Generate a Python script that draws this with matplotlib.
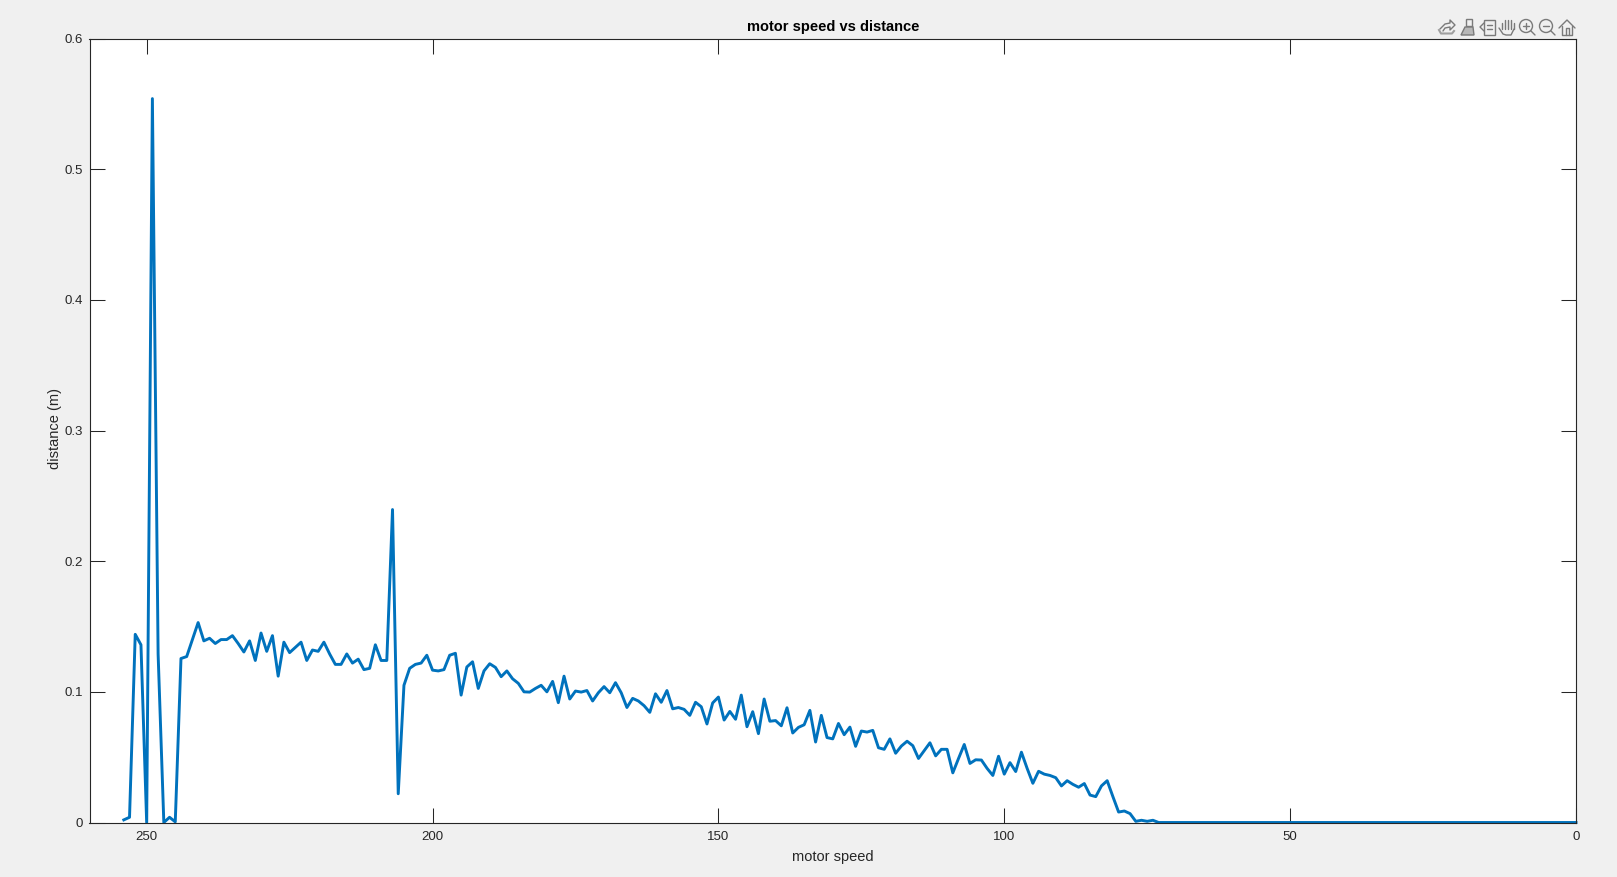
import matplotlib
matplotlib.use('Agg')
import matplotlib.pyplot as plt
from matplotlib.patches import Circle, Polygon, Rectangle

plt.rcParams['font.family'] = ['Liberation Sans', 'DejaVu Sans']

# motor speed runs 254 down to 0
motor_speed = list(range(254, -1, -1))
distance = [
    0.002, 0.004, 0.144, 0.136, 0.0, 0.554, 0.129, 0.0, 0.004, 0.0005,
    0.1255, 0.127, 0.140, 0.153, 0.139, 0.141, 0.137, 0.140, 0.140, 0.143,
    0.137, 0.1305, 0.139, 0.124, 0.145, 0.131, 0.143, 0.112, 0.138, 0.130,
    0.134, 0.138, 0.124, 0.132, 0.131, 0.138, 0.129, 0.121, 0.121, 0.129,
    0.122, 0.125, 0.117, 0.118, 0.136, 0.124, 0.124, 0.2395, 0.022, 0.105,
    0.118, 0.121, 0.122, 0.128, 0.1166, 0.116, 0.117, 0.128, 0.1295, 0.0975,
    0.119, 0.123, 0.1026, 0.116, 0.1215, 0.1187, 0.1116, 0.116, 0.110, 0.1065,
    0.100, 0.0998, 0.1026, 0.105, 0.100, 0.108, 0.0917, 0.112, 0.0945, 0.1006,
    0.0998, 0.101, 0.093, 0.0993, 0.104, 0.0993, 0.107, 0.0993, 0.088, 0.095,
    0.093, 0.0894, 0.0843, 0.0985, 0.092, 0.101, 0.087, 0.088, 0.0866, 0.082,
    0.092, 0.0886, 0.0754, 0.0915, 0.096, 0.0784, 0.085, 0.079, 0.0975, 0.0733,
    0.0848, 0.068, 0.0945, 0.0775, 0.078, 0.074, 0.0878, 0.0685, 0.0728, 0.0748,
    0.0858, 0.0616, 0.082, 0.065, 0.064, 0.0758, 0.0672, 0.073, 0.0583, 0.070,
    0.0692, 0.0705, 0.0572, 0.056, 0.064, 0.053, 0.0585, 0.0622, 0.0588, 0.049,
    0.055, 0.061, 0.051, 0.056, 0.056, 0.038, 0.049, 0.0597, 0.0452, 0.048,
    0.0478, 0.0414, 0.036, 0.0507, 0.037, 0.0458, 0.039, 0.0538, 0.0414, 0.030,
    0.0392, 0.037, 0.036, 0.0343, 0.028, 0.032, 0.0292, 0.027, 0.0298, 0.021,
    0.0198, 0.028, 0.032, 0.0198, 0.008, 0.0088, 0.0068, 0.0009, 0.0017, 0.0009,
    0.0017, 0.0, 0.0, 0.0, 0.0, 0.0, 0.0, 0.0, 0.0, 0.0,
    0.0, 0.0, 0.0, 0.0, 0.0, 0.0, 0.0, 0.0, 0.0, 0.0,
    0.0, 0.0, 0.0, 0.0, 0.0, 0.0, 0.0, 0.0, 0.0, 0.0,
    0.0, 0.0, 0.0, 0.0, 0.0, 0.0, 0.0, 0.0, 0.0, 0.0,
    0.0, 0.0, 0.0, 0.0, 0.0, 0.0, 0.0, 0.0, 0.0, 0.0,
    0.0, 0.0, 0.0, 0.0, 0.0, 0.0, 0.0, 0.0, 0.0, 0.0,
    0.0, 0.0, 0.0, 0.0, 0.0, 0.0, 0.0, 0.0, 0.0, 0.0,
    0.0, 0.0, 0.0, 0.0, 0.0,
]
x_ticks = [0, 50, 100, 150, 200, 250]
y_ticks = [0, 0.1, 0.2, 0.3, 0.4, 0.5, 0.6]
y_tick_labels = ['0', '0.1', '0.2', '0.3', '0.4', '0.5', '0.6']

W, H = 1617, 877
AX_COLOR = '#262626'
ICON = '#7a7a7a'


def draw_toolbar(fig):
    # overlay in pixel coordinates for the little MATLAB figure toolbar
    tb = fig.add_axes([0, 0, 1, 1], facecolor='none')
    tb.set_xlim(0, W)
    tb.set_ylim(H, 0)
    tb.axis('off')
    kw = dict(color=ICON, lw=1.0, solid_capstyle='round')

    # edit / plot tools
    tb.plot([1440, 1445, 1450, 1450, 1455, 1450, 1450, 1445, 1443],
            [29, 24, 23, 20, 25, 30, 27, 28, 31], **kw)
    tb.plot([1439, 1441, 1452, 1454], [30, 33.5, 33.5, 31], color='#a0a0a0', lw=1.5)

    # brush
    tb.add_patch(Polygon([[1466, 19], [1472, 19], [1472, 26], [1466, 26]], fill=False, ec=ICON, lw=1))
    tb.add_patch(Polygon([[1465, 27], [1473, 27], [1474, 35], [1461, 35]], fill=True, fc='#b8b8b8', ec=ICON, lw=1))

    # legend
    tb.add_patch(Rectangle((1484, 19.5), 10.5, 15, fill=False, ec=ICON, lw=1))
    tb.plot([1487, 1492], [25, 25], **kw)
    tb.plot([1487, 1492], [29, 29], **kw)
    tb.plot([1484, 1480, 1484], [23, 27, 31], **kw)

    # hand
    for hx, top in [(1502, 23), (1505, 20), (1508, 19.5), (1511, 20), (1514, 23)]:
        tb.plot([hx, hx], [top, 29], **kw)
    tb.plot([1499, 1503, 1506, 1511, 1514], [28, 34, 35, 35, 29], **kw)

    # zoom in, zoom out
    for cx in [1526, 1546]:
        tb.add_patch(Circle((cx, 26), 6.5, fill=False, ec=ICON, lw=1))
        tb.plot([cx + 4.5, cx + 9], [30.5, 35], **kw)
        tb.plot([cx - 3, cx + 3], [26, 26], **kw)
    tb.plot([1526, 1526], [23, 29], **kw)

    # home
    tb.plot([1559, 1567, 1575], [28, 20, 28], **kw)
    tb.plot([1562, 1562, 1572, 1572], [26, 34.5, 34.5, 26], **kw)
    tb.plot([1565.5, 1565.5, 1568.5, 1568.5], [34.5, 28, 28, 34.5], **kw)


def main():
    assert len(motor_speed) == len(distance)

    fig = plt.figure(figsize=(W / 100, H / 100), dpi=100, facecolor='#f0f0f0')
    ax = fig.add_axes([89.5 / W, 1 - 822.5 / H, (1576 - 89.5) / W, (822.5 - 38.5) / H])

    # not clipped: the flat part at zero sits on top of the axis line
    ax.plot(motor_speed, distance, color='#0072BD', lw=2.1,
            solid_joinstyle='round', clip_on=False)

    ax.set_xlim(260, 0)
    ax.set_ylim(0, 0.6)
    ax.set_xticks(x_ticks)
    ax.set_yticks(y_ticks)
    ax.set_yticklabels(y_tick_labels)

    ax.tick_params(direction='in', top=True, right=True, length=10.5, width=0.75,
                   color=AX_COLOR, labelcolor=AX_COLOR, labelsize=9.5, pad=5)
    ax.tick_params(axis='x', pad=6)
    for side in ax.spines.values():
        side.set_color(AX_COLOR)
        side.set_linewidth(0.8)

    ax.set_title('motor speed vs distance', fontsize=10.5, fontweight='bold', color='black', pad=5.7)
    ax.set_xlabel('motor speed', fontsize=10.5, color=AX_COLOR, labelpad=5.5)
    ax.set_ylabel('distance (m)', fontsize=10.5, color=AX_COLOR, labelpad=1.6, y=0.503)

    draw_toolbar(fig)

    fig.savefig('out.png', dpi=100, facecolor=fig.get_facecolor())


if __name__ == '__main__':
    main()
